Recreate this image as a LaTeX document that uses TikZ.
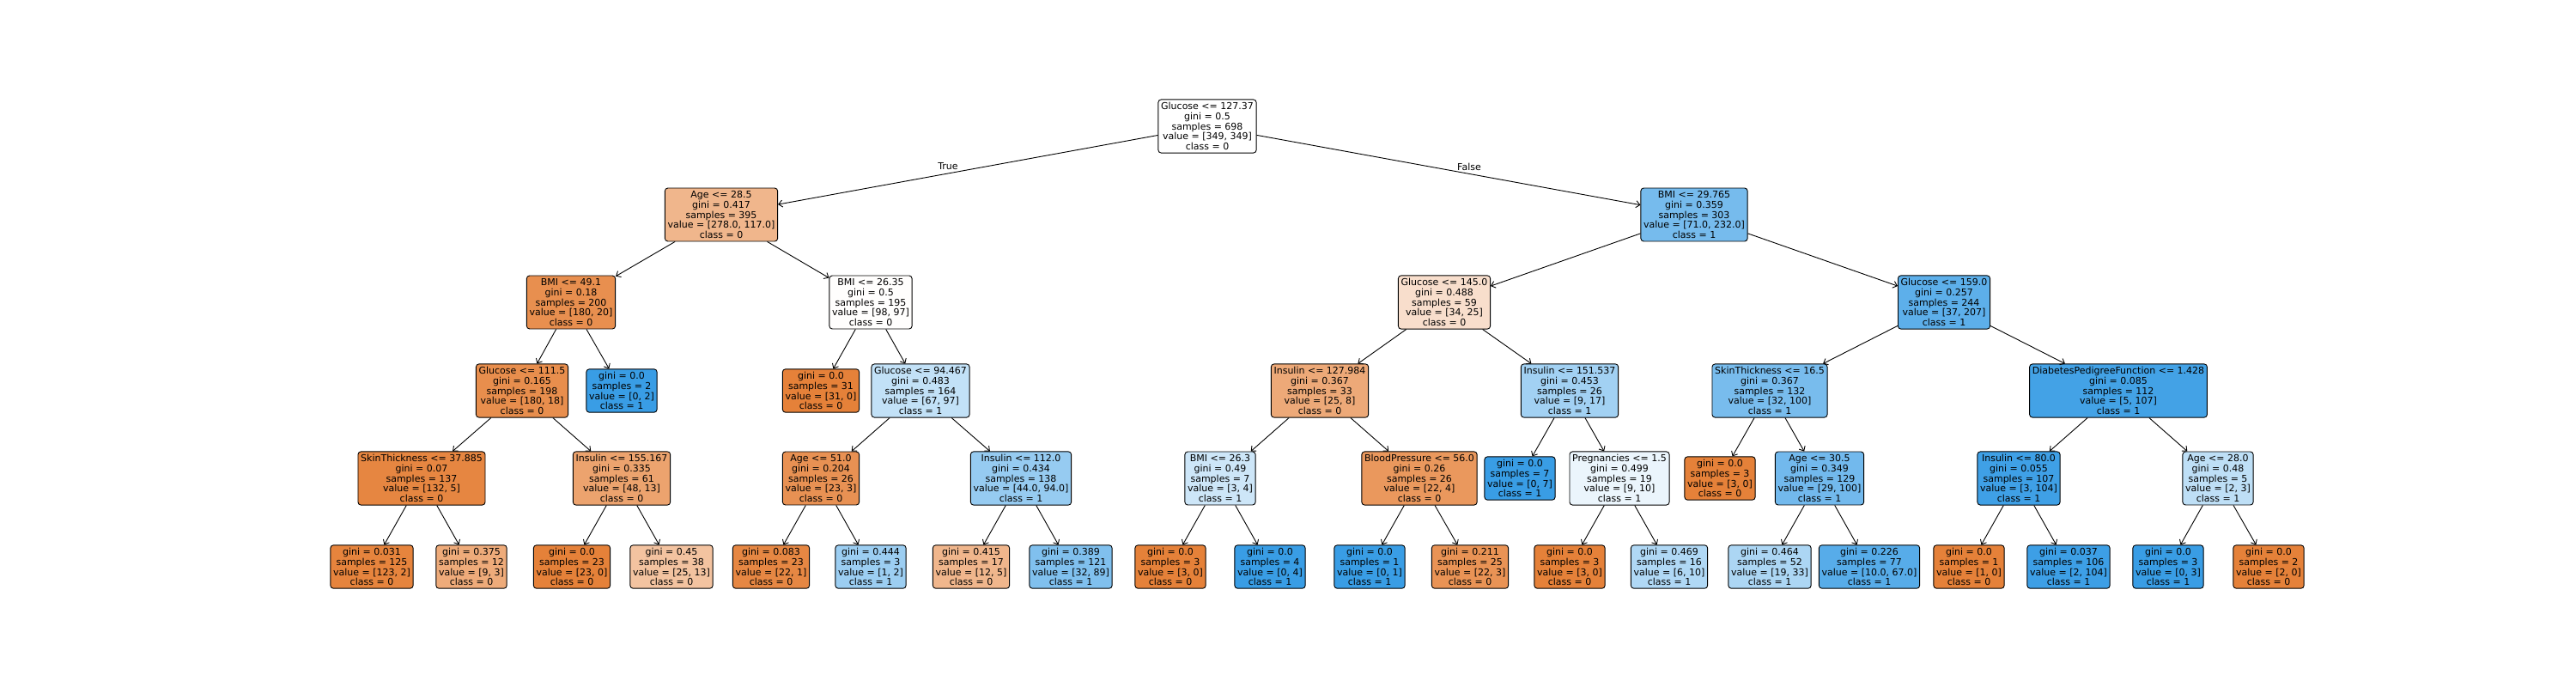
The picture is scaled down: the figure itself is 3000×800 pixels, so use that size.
\documentclass[tikz,border=0pt]{standalone}
\usepackage{fontspec}
\setmainfont{DejaVu Sans}
\usetikzlibrary{arrows.meta}
\definecolor{co}{RGB}{229,129,57}
\definecolor{cb}{RGB}{57,157,229}
\tikzset{
  tbox/.style={draw=black, rounded corners=3.3pt, line width=0.9pt, align=center,
    inner sep=3.2pt, font=\fontsize{11}{11.8}\selectfont},
  edge/.style={line width=0.9pt, -{Straight Barb[length=4.5pt,width=8pt,line width=0.9pt]}},
  lbl/.style={font=\fontsize{11}{12}\selectfont, inner sep=0pt}
}
\begin{document}
\begin{tikzpicture}[x=1pt,y=-1pt]
\useasboundingbox (0,0) rectangle (3000,800);
% level 0
\node[tbox, fill=white] (n0) at (1406,147) {Glucose <= 127.37\\gini = 0.5\\samples = 698\\value = [349, 349]\\class = 0};
% level 1
\node[tbox, fill=co!58!white] (n1) at (840,250) {Age <= 28.5\\gini = 0.417\\samples = 395\\value = [278.0, 117.0]\\class = 0};
\node[tbox, fill=cb!69!white] (n2) at (1973,250) {BMI <= 29.765\\gini = 0.359\\samples = 303\\value = [71.0, 232.0]\\class = 1};
% level 2
\node[tbox, fill=co!89!white] (n3) at (665,352) {BMI <= 49.1\\gini = 0.18\\samples = 200\\value = [180, 20]\\class = 0};
\node[tbox, fill=co!1!white] (n4) at (1014,352) {BMI <= 26.35\\gini = 0.5\\samples = 195\\value = [98, 97]\\class = 0};
\node[tbox, fill=co!26!white] (n5) at (1682,352) {Glucose <= 145.0\\gini = 0.488\\samples = 59\\value = [34, 25]\\class = 0};
\node[tbox, fill=cb!82!white] (n6) at (2264,352) {Glucose <= 159.0\\gini = 0.257\\samples = 244\\value = [37, 207]\\class = 1};
% level 3
\node[tbox, fill=co!90!white] (n7) at (608,455) {Glucose <= 111.5\\gini = 0.165\\samples = 198\\value = [180, 18]\\class = 0};
\node[tbox, fill=cb] (n8) at (724,455) {gini = 0.0\\samples = 2\\value = [0, 2]\\class = 1};
\node[tbox, fill=co] (n9) at (956,455) {gini = 0.0\\samples = 31\\value = [31, 0]\\class = 0};
\node[tbox, fill=cb!31!white] (n10) at (1072,455) {Glucose <= 94.467\\gini = 0.483\\samples = 164\\value = [67, 97]\\class = 1};
\node[tbox, fill=co!68!white] (n11) at (1537,455) {Insulin <= 127.984\\gini = 0.367\\samples = 33\\value = [25, 8]\\class = 0};
\node[tbox, fill=cb!47!white] (n12) at (1828,455) {Insulin <= 151.537\\gini = 0.453\\samples = 26\\value = [9, 17]\\class = 1};
\node[tbox, fill=cb!68!white] (n13) at (2061,455) {SkinThickness <= 16.5\\gini = 0.367\\samples = 132\\value = [32, 100]\\class = 1};
\node[tbox, fill=cb!95!white] (n14) at (2467,455) {DiabetesPedigreeFunction <= 1.428\\gini = 0.085\\samples = 112\\value = [5, 107]\\class = 1};
% level 4
\node[tbox, fill=co!96!white] (n15) at (491,557) {SkinThickness <= 37.885\\gini = 0.07\\samples = 137\\value = [132, 5]\\class = 0};
\node[tbox, fill=co!73!white] (n16) at (724,557) {Insulin <= 155.167\\gini = 0.335\\samples = 61\\value = [48, 13]\\class = 0};
\node[tbox, fill=co!87!white] (n17) at (956,557) {Age <= 51.0\\gini = 0.204\\samples = 26\\value = [23, 3]\\class = 0};
\node[tbox, fill=cb!53!white] (n18) at (1189,557) {Insulin <= 112.0\\gini = 0.434\\samples = 138\\value = [44.0, 94.0]\\class = 1};
\node[tbox, fill=cb!25!white] (n19) at (1421,557) {BMI <= 26.3\\gini = 0.49\\samples = 7\\value = [3, 4]\\class = 1};
\node[tbox, fill=co!82!white] (n20) at (1653,557) {BloodPressure <= 56.0\\gini = 0.26\\samples = 26\\value = [22, 4]\\class = 0};
\node[tbox, fill=cb] (n21) at (1770,557) {gini = 0.0\\samples = 7\\value = [0, 7]\\class = 1};
\node[tbox, fill=cb!10!white] (n22) at (1886,557) {Pregnancies <= 1.5\\gini = 0.499\\samples = 19\\value = [9, 10]\\class = 1};
\node[tbox, fill=co] (n23) at (2003,557) {gini = 0.0\\samples = 3\\value = [3, 0]\\class = 0};
\node[tbox, fill=cb!71!white] (n24) at (2119,557) {Age <= 30.5\\gini = 0.349\\samples = 129\\value = [29, 100]\\class = 1};
\node[tbox, fill=cb!97!white] (n25) at (2351,557) {Insulin <= 80.0\\gini = 0.055\\samples = 107\\value = [3, 104]\\class = 1};
\node[tbox, fill=cb!33!white] (n26) at (2583,557) {Age <= 28.0\\gini = 0.48\\samples = 5\\value = [2, 3]\\class = 1};
% level 5
\node[tbox, fill=co!98!white] (l1) at (433,660) {gini = 0.031\\samples = 125\\value = [123, 2]\\class = 0};
\node[tbox, fill=co!67!white] (l2) at (549,660) {gini = 0.375\\samples = 12\\value = [9, 3]\\class = 0};
\node[tbox, fill=co] (l3) at (666,660) {gini = 0.0\\samples = 23\\value = [23, 0]\\class = 0};
\node[tbox, fill=co!48!white] (l4) at (782,660) {gini = 0.45\\samples = 38\\value = [25, 13]\\class = 0};
\node[tbox, fill=co!95!white] (l5) at (898,660) {gini = 0.083\\samples = 23\\value = [22, 1]\\class = 0};
\node[tbox, fill=cb!50!white] (l6) at (1014,660) {gini = 0.444\\samples = 3\\value = [1, 2]\\class = 1};
\node[tbox, fill=co!58!white] (l7) at (1131,660) {gini = 0.415\\samples = 17\\value = [12, 5]\\class = 0};
\node[tbox, fill=cb!64!white] (l8) at (1247,660) {gini = 0.389\\samples = 121\\value = [32, 89]\\class = 1};
\node[tbox, fill=co] (l9) at (1363,660) {gini = 0.0\\samples = 3\\value = [3, 0]\\class = 0};
\node[tbox, fill=cb] (l10) at (1479,660) {gini = 0.0\\samples = 4\\value = [0, 4]\\class = 1};
\node[tbox, fill=cb] (l11) at (1595,660) {gini = 0.0\\samples = 1\\value = [0, 1]\\class = 1};
\node[tbox, fill=co!86!white] (l12) at (1712,660) {gini = 0.211\\samples = 25\\value = [22, 3]\\class = 0};
\node[tbox, fill=co] (l13) at (1828,660) {gini = 0.0\\samples = 3\\value = [3, 0]\\class = 0};
\node[tbox, fill=cb!40!white] (l14) at (1944,660) {gini = 0.469\\samples = 16\\value = [6, 10]\\class = 1};
\node[tbox, fill=cb!42!white] (l15) at (2061,660) {gini = 0.464\\samples = 52\\value = [19, 33]\\class = 1};
\node[tbox, fill=cb!85!white] (l16) at (2177,660) {gini = 0.226\\samples = 77\\value = [10.0, 67.0]\\class = 1};
\node[tbox, fill=co] (l17) at (2293,660) {gini = 0.0\\samples = 1\\value = [1, 0]\\class = 0};
\node[tbox, fill=cb!98!white] (l18) at (2409,660) {gini = 0.037\\samples = 106\\value = [2, 104]\\class = 1};
\node[tbox, fill=cb] (l19) at (2525,660) {gini = 0.0\\samples = 3\\value = [0, 3]\\class = 1};
\node[tbox, fill=co] (l20) at (2642,660) {gini = 0.0\\samples = 2\\value = [2, 0]\\class = 0};
% edges
\foreach \p/\c in {n0/n1,n0/n2,n1/n3,n1/n4,n2/n5,n2/n6,n3/n7,n3/n8,n4/n9,n4/n10,
  n5/n11,n5/n12,n6/n13,n6/n14,n7/n15,n7/n16,n10/n17,n10/n18,n11/n19,n11/n20,
  n12/n21,n12/n22,n13/n23,n13/n24,n14/n25,n14/n26,n15/l1,n15/l2,n16/l3,n16/l4,
  n17/l5,n17/l6,n18/l7,n18/l8,n19/l9,n19/l10,n20/l11,n20/l12,n22/l13,n22/l14,
  n24/l15,n24/l16,n25/l17,n25/l18,n26/l19,n26/l20}
  \draw[edge] (\p) -- (\c);
\node[lbl] (tlab) at (1104,194) {True};
\node[lbl] (flab) at (1711,194) {False};
\end{tikzpicture}
\end{document}
